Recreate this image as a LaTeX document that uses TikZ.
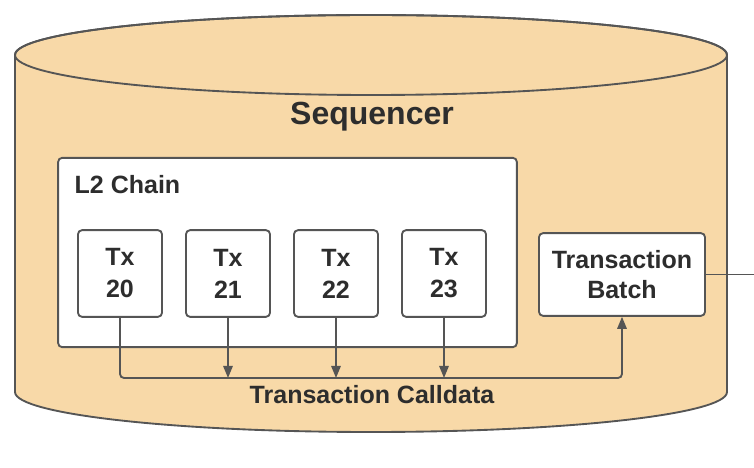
\documentclass[tikz,border=0pt]{standalone}
\usepackage{fontspec}
\setmainfont{Liberation Sans}
\usetikzlibrary{arrows.meta}
\definecolor{peach}{RGB}{248,217,168}
\definecolor{edge}{RGB}{85,85,85}
\definecolor{ink}{RGB}{45,45,45}
\tikzset{
  px/.style={x=0.75pt,y=0.75pt},
  box/.style={draw=edge,line width=1.4pt,fill=white,rounded corners=3pt,inner sep=0pt},
  txbox/.style={box,minimum width=63pt,minimum height=65pt,align=center,font=\fontsize{18.75}{24}\selectfont\bfseries,text=ink},
  wire/.style={draw=edge,line width=1.4pt},
  tip/.style={-{Triangle[length=9pt,width=7pt]}}
}
\begin{document}
\begin{tikzpicture}[px]
\useasboundingbox (0,0) rectangle (754,468);
% cylinder
\path[fill=peach,draw=edge,line width=1.4pt] (15,413) -- (15,76)
  arc[start angle=180,end angle=360,x radius=356,y radius=40] -- (727,413)
  arc[start angle=0,end angle=180,x radius=356,y radius=40] -- cycle;
\draw[edge,line width=1.4pt] (371,413) ellipse[x radius=356,y radius=40];
\node[font=\fontsize{24}{28}\selectfont\bfseries,text=ink] (seq) at (372,351) {Sequencer};
% L2 chain
\node[box,minimum width=344pt,minimum height=142pt] (l2) at (287.5,215.5) {};
\node[anchor=west,font=\fontsize{18.75}{24}\selectfont\bfseries,text=ink] (l2lab) at (70,283) {L2 Chain};
\node[txbox] (t20) at (120,194.5) {Tx\\20};
\node[txbox] (t21) at (228,194.5) {Tx\\21};
\node[txbox] (t22) at (336,194.5) {Tx\\22};
\node[txbox] (t23) at (444,194.5) {Tx\\23};
\node[box,minimum width=124.5pt,minimum height=62pt,align=center,font=\fontsize{18.75}{23}\selectfont\bfseries,text=ink] (batch) at (622,193.5) {Transaction\\Batch};
\coordinate (bus) at (0,90);
\coordinate (out) at (754,193.5);
\node[font=\fontsize{18.75}{24}\selectfont\bfseries,text=ink] (cd) at (372,73) {Transaction Calldata};
% connectors
\draw[wire,tip,rounded corners=3pt] (t20.south) |- (batch.south |- bus) -- (batch.south);
\draw[wire,tip] (t21.south) -- (t21.south |- bus);
\draw[wire,tip] (t22.south) -- (t22.south |- bus);
\draw[wire,tip] (t23.south) -- (t23.south |- bus);
\draw[wire] (batch.east) -- (out);
\end{tikzpicture}
\end{document}
